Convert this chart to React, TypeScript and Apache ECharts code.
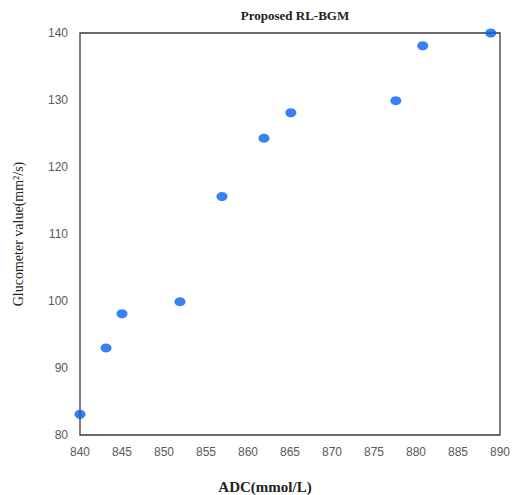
import React, { useEffect, useRef } from "react";
import * as echarts from "echarts";

const adcValues = [840, 843.1, 845, 851.9, 856.9, 861.9, 865.1, 877.6, 880.8, 888.9];
const glucometerValues = [83.1, 93, 98.1, 99.9, 115.6, 124.3, 128.1, 129.9, 138.1, 140];
const titleText = "Proposed RL-BGM";
const xAxisTitle = "ADC(mmol/L)";
const yAxisTitle = "Glucometer value(mm²/s)";

export default function App() {
  const ref = useRef<HTMLDivElement>(null);
  useEffect(() => {
    if (!ref.current) return;
    const chart = echarts.init(ref.current, undefined, { renderer: "svg" });
    const data = adcValues.map((x, i) => [x, glucometerValues[i]]);
    chart.setOption({
      animation: false,
      backgroundColor: "#ffffff",
      grid: {
        left: 80,
        right: 19,
        top: 33,
        bottom: 60,
        show: true,
        borderColor: "#3a3a3a",
        borderWidth: 1.3,
      },
      xAxis: {
        type: "value",
        min: 840,
        max: 890,
        interval: 5,
        axisLine: { show: false },
        axisTick: { show: false },
        splitLine: { show: false },
        axisLabel: {
          color: "#595959",
          fontFamily: "Liberation Sans",
          fontSize: 12,
          margin: 11,
        },
      },
      yAxis: {
        type: "value",
        min: 80,
        max: 140,
        interval: 10,
        axisLine: { show: false },
        axisTick: { show: false },
        splitLine: { show: false },
        axisLabel: {
          color: "#595959",
          fontFamily: "Liberation Sans",
          fontSize: 12,
          margin: 12,
        },
      },
      graphic: [
        {
          type: "text",
          x: 295,
          y: 15,
          style: {
            text: titleText,
            fontFamily: "Liberation Serif",
            fontWeight: "bold",
            fontSize: 13,
            fill: "#222222",
            textAlign: "center",
            textVerticalAlign: "middle",
          },
        },
        {
          type: "text",
          x: 265,
          y: 487,
          style: {
            text: xAxisTitle,
            fontFamily: "Liberation Serif",
            fontWeight: "bold",
            fontSize: 15,
            fill: "#222222",
            textAlign: "center",
            textVerticalAlign: "middle",
          },
        },
        {
          type: "text",
          x: 18,
          y: 234,
          rotation: Math.PI / 2,
          style: {
            text: yAxisTitle,
            fontFamily: "Liberation Serif",
            fontSize: 14,
            fill: "#222222",
            textAlign: "center",
            textVerticalAlign: "middle",
          },
        },
      ],
      series: [
        {
          type: "scatter",
          data,
          symbol: "circle",
          symbolSize: [11, 9],
          itemStyle: { color: "#0562f2" },
        },
      ],
    });
    return () => chart.dispose();
  }, []);
  return <div ref={ref} style={{ width: 519, height: 495, position: "absolute", left: 0, top: 0 }} />;
}
